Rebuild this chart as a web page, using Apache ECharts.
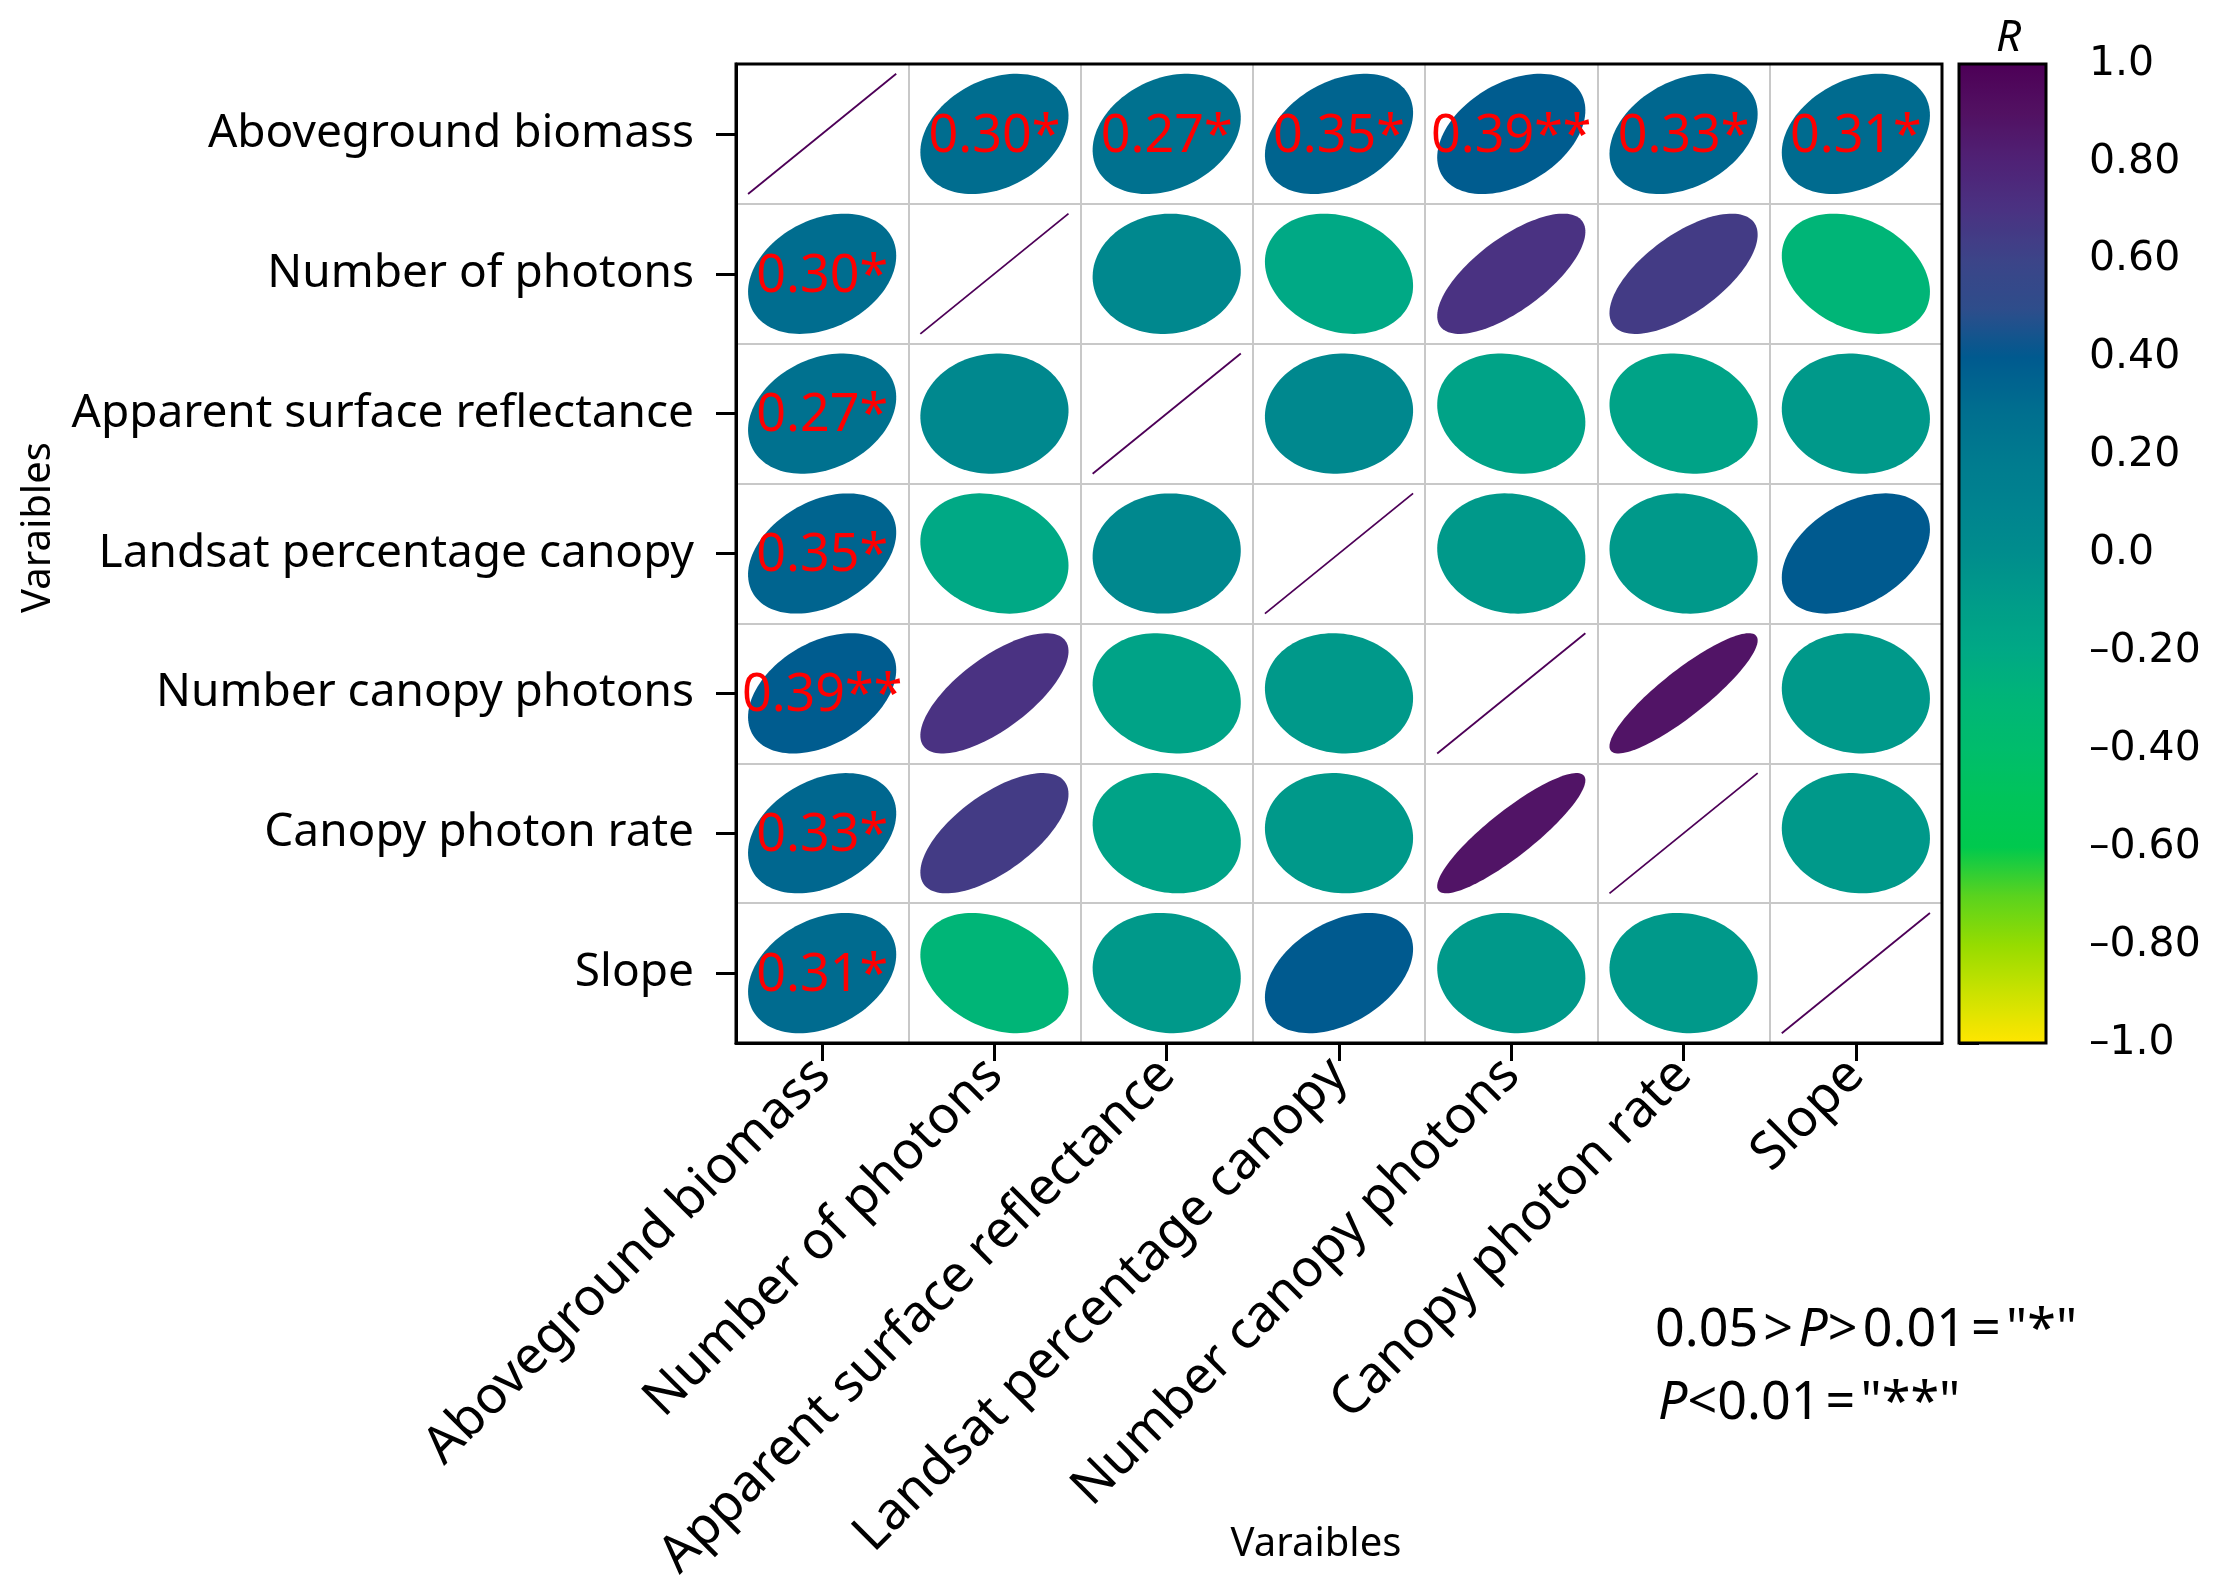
<!DOCTYPE html>
<html>
<head>
<meta charset="utf-8">
<script src="https://cdn.jsdelivr.net/npm/echarts@6/dist/echarts.min.js"></script>
<style>
  html, body { margin: 0; padding: 0; background: #fff; }
  #chart { width: 2219px; height: 1588px; }
</style>
</head>
<body>
<div id="chart"></div>
<script>
// ---- data ----
const categories = [
  'Aboveground biomass',
  'Number of photons',
  'Apparent surface reflectance',
  'Landsat percentage canopy',
  'Number canopy photons',
  'Canopy photon rate',
  'Slope'
];
// correlation matrix rows (same order as categories)
const rowAGB   = [1.00, 0.30, 0.27, 0.35, 0.39, 0.33, 0.31];
const rowNP    = [0.30, 1.00, 0.05, -0.20, 0.70, 0.65, -0.30];
const rowASR   = [0.27, 0.05, 1.00, 0.05, -0.15, -0.15, -0.08];
const rowLPC   = [0.35, -0.20, 0.05, 1.00, -0.08, -0.08, 0.40];
const rowNCP   = [0.39, 0.70, -0.15, -0.08, 1.00, 0.88, -0.08];
const rowCPR   = [0.33, 0.65, -0.15, -0.08, 0.88, 1.00, -0.08];
const rowSlope = [0.31, -0.30, -0.08, 0.40, -0.08, -0.08, 1.00];
// significance marks for correlations with aboveground biomass
const agbStars = ['', '*', '*', '*', '**', '*', '*'];
// colour bar tick labels (from -1 to 1, step 0.2)
const barTickLabels = ['\u20131.0', '\u20130.80', '\u20130.60', '\u20130.40', '\u20130.20', '0.0', '0.20', '0.40', '0.60', '0.80', '1.0'];
// colour ramp from -1 (first) to 1 (last), every 0.1
const rampColors = [
  '#FFE600', '#CCE200', '#96DC00', '#5AD31E', '#00C94E', '#00C45A', '#00BD6C', '#00B577',
  '#00A985', '#009C89', '#008D8D', '#00838F', '#007A8F', '#006D8F', '#005A8F', '#2E4D8B',
  '#3C4488', '#4A3282', '#4F2276', '#521162', '#4D0057'
];

const matrix = [rowAGB, rowNP, rowASR, rowLPC, rowNCP, rowCPR, rowSlope];
const cellData = [];
matrix.forEach(function (row, i) {
  row.forEach(function (r, j) {
    cellData.push([j, i, r]);
  });
});

const FONT = 'Noto Sans';

const chart = echarts.init(document.getElementById('chart'));

function renderCell(params, api) {
  const x = api.value(0), y = api.value(1), r = api.value(2);
  const c = api.coord([x, y]);
  const s = api.size([1, 1]);
  const rx = s[0] * 0.43, ry = s[1] * 0.43;
  const color = api.visual('color');
  const children = [];
  if (r >= 0.999) {
    children.push({
      type: 'line',
      shape: { x1: c[0] - rx, y1: c[1] + ry, x2: c[0] + rx, y2: c[1] - ry },
      style: { stroke: color, lineWidth: 1.8 }
    });
  } else {
    const d = Math.acos(r);
    const pts = [];
    const n = 120;
    for (let k = 0; k < n; k++) {
      const t = (k / n) * Math.PI * 2;
      pts.push([c[0] + rx * Math.cos(t + d / 2), c[1] - ry * Math.cos(t - d / 2)]);
    }
    children.push({ type: 'polygon', shape: { points: pts }, style: { fill: color } });
    if ((x === 0 || y === 0) && x !== y) {
      const idx = x === 0 ? y : x;
      children.push({
        type: 'text',
        style: {
          text: r.toFixed(2) + agbStars[idx],
          x: c[0], y: c[1] + 3,
          align: 'center', verticalAlign: 'middle',
          fill: '#FF0000', fontSize: 52, fontFamily: FONT
        },
        z2: 10
      });
    }
  }
  return { type: 'group', children: children };
}

const option = {
  animation: false,
  backgroundColor: '#fff',
  grid: [
    { left: 736, top: 64, width: 1206, height: 979, containLabel: false, outerBoundsMode: 'none',
      show: true, borderColor: '#000', borderWidth: 3, backgroundColor: 'transparent', z: 5 },
    { left: 1959, top: 64, width: 87, height: 979, containLabel: false, outerBoundsMode: 'none',
      show: true, borderColor: '#000', borderWidth: 3, backgroundColor: 'transparent', z: 10 }
  ],
  xAxis: [
    {
      gridIndex: 0, type: 'category', data: categories, position: 'bottom',
      axisLine: { show: true, lineStyle: { color: '#000', width: 3 } },
      axisTick: { show: true, alignWithLabel: true, length: 18, lineStyle: { color: '#000', width: 3 } },
      axisLabel: { interval: 0, rotate: 45, margin: 24, fontSize: 52, fontFamily: FONT, color: '#000' },
      splitLine: { show: true, interval: 0, lineStyle: { color: '#c8c8c8', width: 2 } },
      name: 'Varaibles', nameLocation: 'middle', nameGap: 482, nameMoveOverlap: false,
      nameTextStyle: { fontSize: 40, fontFamily: FONT, color: '#000', padding: [0, 46, 0, 0] }
    },
    {
      gridIndex: 1, type: 'value', position: 'top', min: 0, max: 1,
      axisLine: { show: false }, axisTick: { show: false }, axisLabel: { show: false }, splitLine: { show: false },
      name: 'R', nameLocation: 'middle', nameGap: 4, nameMoveOverlap: false,
      nameTextStyle: { fontSize: 44, fontFamily: FONT, fontStyle: 'italic', color: '#000', padding: [0, 0, 0, 12] }
    }
  ],
  yAxis: [
    {
      gridIndex: 0, type: 'category', data: categories, inverse: true,
      axisLine: { show: true, lineStyle: { color: '#000', width: 3 } },
      axisTick: { show: true, alignWithLabel: true, length: 20, lineStyle: { color: '#000', width: 3 } },
      axisLabel: { interval: 0, margin: 42, fontSize: 46, fontFamily: FONT, color: '#000' },
      splitLine: { show: true, interval: 0, lineStyle: { color: '#c8c8c8', width: 2 } },
      name: 'Varaibles', nameLocation: 'middle', nameGap: 677, nameMoveOverlap: false,
      nameTextStyle: { fontSize: 40, fontFamily: FONT, color: '#000', padding: [0, 0, 0, 52] }
    },
    {
      gridIndex: 1, type: 'value', position: 'right', min: -1, max: 1, interval: 0.2,
      axisLine: { show: false },
      axisTick: { show: true, length: 20, lineStyle: { color: '#000', width: 3 } },
      axisLabel: {
        margin: 43, fontSize: 41, fontFamily: 'DejaVu Sans', color: '#000',
        formatter: function (v) { return barTickLabels[Math.round((v + 1) / 0.2)]; }
      },
      splitLine: { show: false }
    }
  ],
  visualMap: {
    type: 'continuous', min: -1, max: 1, seriesIndex: 0, dimension: 2,
    inRange: { color: rampColors },
    left: 1959, top: 64, itemWidth: 87, itemHeight: 979,
    calculable: false, text: null, padding: 0, hoverLink: false, showLabel: false
  },
  graphic: [
    {
      type: 'text', left: 1655, top: 1305,
      style: {
        text: '0.05\u200A>\u200A{i|P}>\u200A0.01\u200A=\u200A"*"',
        fontSize: 52, fontFamily: FONT, fill: '#000',
        rich: { i: { fontSize: 52, fontFamily: FONT, fontStyle: 'italic', fill: '#000' } }
      }
    },
    {
      type: 'text', left: 1658, top: 1378,
      style: {
        text: '{i|P}<0.01\u200A=\u200A"**"',
        fontSize: 52, fontFamily: FONT, fill: '#000',
        rich: { i: { fontSize: 52, fontFamily: FONT, fontStyle: 'italic', fill: '#000' } }
      }
    }
  ],
  series: [
    {
      type: 'custom', xAxisIndex: 0, yAxisIndex: 0,
      renderItem: renderCell,
      data: cellData,
      encode: { x: 0, y: 1 },
      z: 2
    }
  ]
};
chart.setOption(option);
</script>
</body>
</html>
